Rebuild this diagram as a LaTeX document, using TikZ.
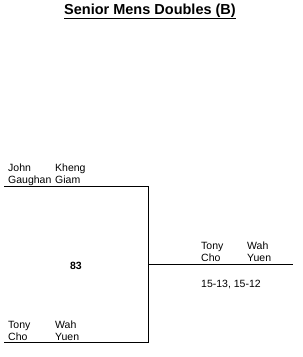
\documentclass[tikz,border=0pt]{standalone}
\usepackage{fontspec}
\setmainfont{Liberation Sans}
\begin{document}
\begin{tikzpicture}[x=1pt,y=-1pt,
  nm/.style={anchor=base west,inner sep=0pt,font=\fontsize{10.5}{12}\selectfont},
  ln/.style={line width=1pt}]
\useasboundingbox (0,0) rectangle (303,357);
\node[anchor=base,inner sep=0pt,font=\fontsize{14.5}{16}\bfseries] (title) at (150,14) {\underline{Senior Mens Doubles (B)}};
% top pair
\node[nm] (a1) at (8,171) {John};
\node[nm] (a2) at (55,171) {Kheng};
\node[nm] (a3) at (8,183) {Gaughan};
\node[nm] (a4) at (55,183) {Giam};
% bottom pair
\node[nm] (b1) at (8,328) {Tony};
\node[nm] (b2) at (55,328) {Wah};
\node[nm] (b3) at (8,340) {Cho};
\node[nm] (b4) at (55,340) {Yuen};
% winner
\node[nm] (w1) at (201,249) {Tony};
\node[nm] (w2) at (247,249) {Wah};
\node[nm] (w3) at (201,261) {Cho};
\node[nm] (w4) at (247,261) {Yuen};
\node[nm] (sc) at (201,287) {15-13, 15-12};
\node[anchor=base,inner sep=0pt,font=\fontsize{10.5}{12}\bfseries] (m) at (76,269) {83};
% bracket
\coordinate (t0) at (4,186);
\coordinate (t1) at (148,186);
\coordinate (b0) at (4,342);
\coordinate (b1c) at (148,342);
\coordinate (r0) at (148,264);
\coordinate (r1) at (293,264);
\draw[ln] (t0) -- (t1) -- (b1c) -- (b0);
\draw[ln] (r0) -- (r1);
\end{tikzpicture}
\end{document}
